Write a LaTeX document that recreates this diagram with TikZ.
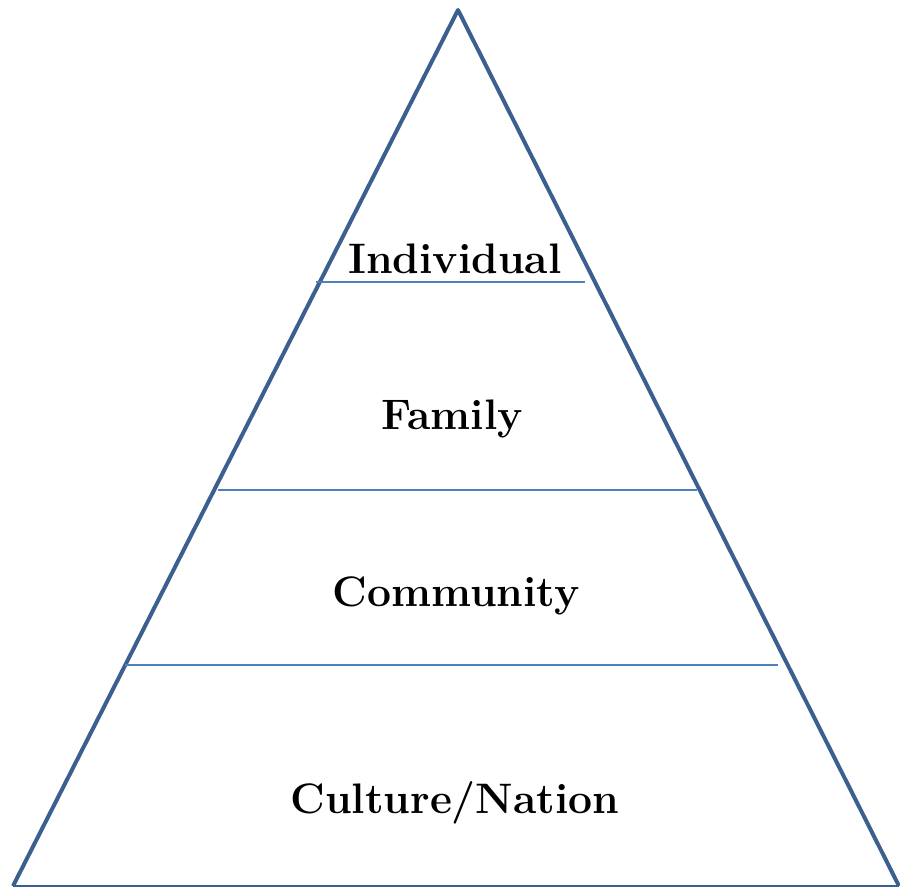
\documentclass[tikz,border=0pt]{standalone}
\usepackage{fontspec}

\begin{document}
\begin{tikzpicture}[x=0.75pt,y=0.75pt,yscale=-1,xscale=1,
  edge/.style={color={rgb, 255:red, 59; green, 96; blue, 143 },line width=3pt,line join=round},
  band/.style={color={rgb, 255:red, 79; green, 129; blue, 189 },line width=1.2pt},
  level/.style={font=\bfseries\fontsize{32}{38}\selectfont,inner sep=0pt}]
\useasboundingbox (0,0) rectangle (900,889);

%Shape: Triangle
\coordinate (apex) at (458,10);
\coordinate (baseL) at (13,886);
\coordinate (baseR) at (899,886);
\draw [edge] (baseL) -- (apex) -- (baseR) ;
\draw [color={rgb, 255:red, 59; green, 96; blue, 143 },line width=1.5pt] (baseL) -- (baseR) ;

%Straight Lines
\coordinate (b1L) at (316,282);
\coordinate (b1R) at (585,282);
\draw [band] (b1L) -- (b1R) ;
%Straight Lines
\coordinate (b2L) at (218,490);
\coordinate (b2R) at (697,490);
\draw [band] (b2L) -- (b2R) ;
%Straight Lines
\coordinate (b3L) at (125,665);
\coordinate (b3R) at (778,665);
\draw [band] (b3L) -- (b3R) ;

% Text Node
\node [level] (individual) at (455,259) {Individual};
% Text Node
\node [level] (family) at (452,419) {Family};
% Text Node
\node [level] (community) at (456,596) {Community};
% Text Node
\node [level] (culture) at (455,803) {Culture/Nation};

\end{tikzpicture}
\end{document}
